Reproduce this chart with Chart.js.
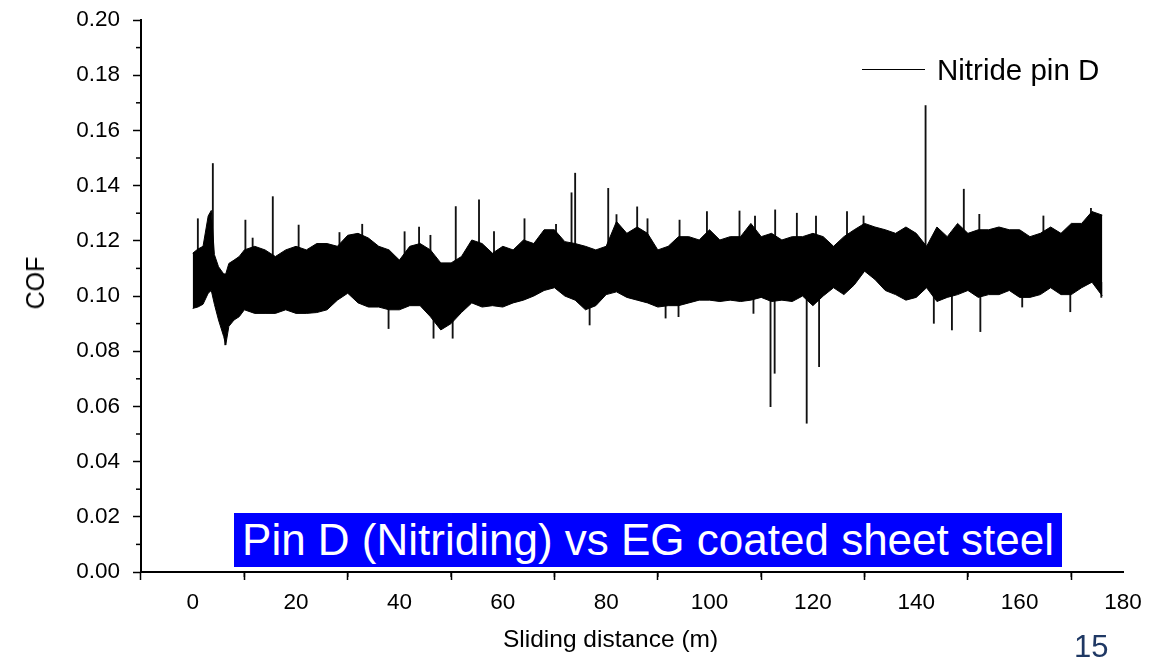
<!DOCTYPE html>
<html>
<head>
<meta charset="utf-8">
<script src="https://cdn.jsdelivr.net/npm/chart.js@4.4.1/dist/chart.umd.min.js"></script>
<style>
  html, body { margin: 0; padding: 0; background: #fff; }
  #wrap { position: relative; width: 1151px; height: 660px; overflow: hidden; }
  #cof { position: absolute; left: 0; top: 0; }
  .legend { position: absolute; left: 862px; top: 53px; height: 34px; font: 29.5px "Liberation Sans", Arial, sans-serif; color: #000; white-space: nowrap; }
  .legend .swatch { position: absolute; left: 0; top: 16px; width: 63px; height: 0; border-top: 1px solid #000; }
  .legend .txt { position: absolute; left: 75px; top: 0; line-height: 34px; }
  .xtitle { position: absolute; left: 503px; top: 624px; font: 24.5px "Liberation Sans", Arial, sans-serif; line-height: 30px; color: #000; white-space: nowrap; }
  .ytitle { position: absolute; left: 35px; top: 283px; font: 25px "Liberation Sans", Arial, sans-serif; line-height: 30px; color: #000; white-space: nowrap; transform: translate(-50%, -50%) rotate(-90deg); }
  .banner { position: absolute; left: 234px; top: 513px; width: 828px; height: 54px; background: #0000ff; color: #fff; font: 44px "Liberation Sans", Arial, sans-serif; line-height: 54px; text-align: center; white-space: nowrap; }
  .pageno { position: absolute; left: 1074px; top: 629px; font: 31px "Liberation Sans", Arial, sans-serif; color: #1f3864; line-height: 36px; }
</style>
</head>
<body>
<div id="wrap">
  <canvas id="cof" width="1151" height="660"></canvas>
  <div class="legend"><div class="swatch"></div><div class="txt">Nitride pin D</div></div>
  <div class="xtitle">Sliding distance (m)</div>
  <div class="ytitle">COF</div>
  <div class="banner">Pin D (Nitriding) vs EG coated sheet steel</div>
  <div class="pageno">15</div>
</div>
<script>
// envelope of the COF trace (upper / lower edge of the black band)
const distance = [0, 1, 2, 3, 3.6, 4.2, 5, 6, 6.4, 7, 8, 9, 10, 12, 14, 16, 18, 20, 22, 24, 26, 28, 30, 32, 34, 36, 38, 40,
  42, 44, 46, 48, 50, 52, 54, 56, 58, 60, 62, 64, 66, 68, 70, 72, 74, 76, 78, 80, 82, 84, 86, 88, 90, 92, 94, 96, 98, 100,
  102, 104, 106, 108, 110, 112, 114, 116, 118, 120, 122, 124, 126, 128, 130, 132, 134, 136, 138, 140, 142, 144, 146, 148,
  150, 152, 154, 156, 158, 160, 162, 164, 166, 168, 170, 172, 174, 176];
const cofHigh = [0.1155, 0.117, 0.118, 0.129, 0.131, 0.115, 0.1106, 0.108, 0.108, 0.1118, 0.113, 0.1143, 0.1167, 0.118,
  0.1167, 0.1143, 0.1167, 0.118, 0.1167, 0.119, 0.119, 0.118, 0.122, 0.1227, 0.121, 0.118, 0.1167, 0.113,
  0.118, 0.119, 0.1167, 0.112, 0.112, 0.1143, 0.1203, 0.119, 0.1155, 0.118, 0.1167, 0.1203, 0.119, 0.124, 0.124, 0.1197,
  0.119, 0.118, 0.1167, 0.118, 0.127, 0.1227, 0.125, 0.1227, 0.1167, 0.118, 0.1215, 0.1215, 0.1203, 0.124,
  0.1203, 0.1215, 0.1215, 0.1263, 0.1215, 0.1227, 0.1203, 0.1215, 0.1215, 0.1227, 0.1215, 0.118, 0.1215, 0.124, 0.1263,
  0.125, 0.124, 0.1227, 0.125, 0.1227, 0.118, 0.125, 0.1215, 0.1263, 0.1227, 0.124, 0.124, 0.125, 0.124, 0.124, 0.1215,
  0.1227, 0.125, 0.1227, 0.1263, 0.1263, 0.1306, 0.1293];
const cofLow = [0.0955, 0.096, 0.097, 0.101, 0.102, 0.097, 0.0913, 0.0853, 0.0823, 0.089, 0.0913, 0.0925, 0.095, 0.0937,
  0.0937, 0.0937, 0.095, 0.0937, 0.0937, 0.094, 0.095, 0.0985, 0.101, 0.0975, 0.096, 0.096, 0.095, 0.095,
  0.0965, 0.0965, 0.0925, 0.0877, 0.09, 0.094, 0.0975, 0.096, 0.0965, 0.096, 0.0975, 0.0985, 0.1, 0.102, 0.103, 0.1,
  0.0985, 0.095, 0.0965, 0.1005, 0.1015, 0.0995, 0.0985, 0.0975, 0.096, 0.0965, 0.0965, 0.0975, 0.0985, 0.0985,
  0.098, 0.0985, 0.098, 0.0985, 0.0995, 0.098, 0.0985, 0.098, 0.1, 0.0965, 0.1, 0.103, 0.1005, 0.104, 0.109,
  0.106, 0.102, 0.1005, 0.0985, 0.0995, 0.103, 0.098, 0.0995, 0.1005, 0.102, 0.0995, 0.1005, 0.1005, 0.102, 0.0995, 0.0995,
  0.1005, 0.103, 0.1005, 0.1005, 0.103, 0.105, 0.1];

// isolated spikes sticking out of the band
const spikeX = [1.0, 3.9, 10.2, 11.6, 15.5, 20.5, 28.4, 32.8, 41.0, 43.8, 46.0, 50.9, 55.4, 58.3, 64.2, 70.3, 73.3, 74.0,
  80.4, 82.0, 86.0, 88.0, 94.2, 99.5, 105.8, 108.8, 112.7, 116.9, 120.6, 126.6, 129.8, 141.8, 149.2, 152.2, 164.6, 173.8,
  6.3, 37.9, 46.6, 50.3, 76.8, 91.5, 94.0, 108.5, 111.8, 112.6, 118.8, 121.2, 143.4, 146.9, 152.4, 160.5, 169.8, 175.8];
const spikeLow = [0.112, 0.11, 0.11, 0.11, 0.11, 0.11, 0.11, 0.11, 0.11, 0.11, 0.11, 0.11, 0.11, 0.11, 0.11, 0.11, 0.11, 0.11,
  0.11, 0.11, 0.11, 0.11, 0.11, 0.11, 0.11, 0.11, 0.11, 0.11, 0.11, 0.11, 0.11, 0.11, 0.11, 0.11, 0.11, 0.11,
  0.0823, 0.0882, 0.0847, 0.0847, 0.0895, 0.092, 0.0925, 0.0937, 0.0599, 0.072, 0.0539, 0.0744, 0.0901, 0.0877, 0.0871, 0.096, 0.0943, 0.0995];
const spikeHigh = [0.128, 0.148, 0.1275, 0.121, 0.136, 0.1257, 0.123, 0.126, 0.1233, 0.125, 0.122, 0.1324, 0.1348, 0.1233, 0.128, 0.126, 0.1374, 0.1445,
  0.139, 0.1295, 0.1323, 0.128, 0.1275, 0.1306, 0.1308, 0.129, 0.1312, 0.13, 0.129, 0.1306, 0.129, 0.169, 0.1387, 0.1296, 0.129, 0.1318,
  0.1, 0.105, 0.105, 0.105, 0.105, 0.105, 0.105, 0.105, 0.105, 0.105, 0.105, 0.105, 0.105, 0.105, 0.105, 0.105, 0.105, 0.105];

const xTicks = [0, 20, 40, 60, 80, 100, 120, 140, 160, 180];
const xMinor = [10, 30, 50, 70, 90, 110, 130, 150, 170];
const yMinor = [0.01, 0.03, 0.05, 0.07, 0.09, 0.11, 0.13, 0.15, 0.17, 0.19];

const tickFont = { family: '"Liberation Sans", Arial, sans-serif', size: 22.5 };

// minor tick marks (chart.js has none for linear axes)
const minorTicks = {
  id: 'minorTicks',
  afterDraw(chart) {
    const { ctx, scales: { x, y } } = chart;
    ctx.save();
    ctx.strokeStyle = '#000';
    ctx.lineWidth = 1.5;
    xMinor.forEach(v => {
      const px = x.getPixelForValue(v);
      ctx.beginPath();
      ctx.moveTo(px, x.top);
      ctx.lineTo(px, x.top + 5);
      ctx.stroke();
    });
    yMinor.forEach(v => {
      const py = y.getPixelForValue(v);
      ctx.beginPath();
      ctx.moveTo(y.right - 5, py);
      ctx.lineTo(y.right, py);
      ctx.stroke();
    });
    ctx.restore();
  }
};

const ctx = document.getElementById('cof').getContext('2d');
new Chart(ctx, {
  type: 'line',
  data: {
    datasets: [
      {
        label: 'Nitride pin D',
        data: distance.map((d, i) => ({ x: d, y: cofHigh[i] })),
        borderColor: '#000',
        borderWidth: 1,
        pointRadius: 0,
        tension: 0,
        fill: false
      },
      {
        label: 'low',
        data: distance.map((d, i) => ({ x: d, y: cofLow[i] })),
        borderColor: '#000',
        backgroundColor: '#000',
        borderWidth: 1,
        pointRadius: 0,
        tension: 0,
        fill: '-1'
      },
      {
        type: 'bar',
        label: 'spikes',
        data: spikeX.map((d, i) => ({ x: d, y: [spikeLow[i], spikeHigh[i]] })),
        backgroundColor: '#111',
        borderWidth: 0,
        barThickness: 1.2,
        grouped: false
      }
    ]
  },
  options: {
    responsive: false,
    animation: false,
    devicePixelRatio: 1,
    layout: { padding: { top: 20, right: 28, left: 0, bottom: 0 } },
    plugins: { legend: { display: false }, tooltip: { enabled: false } },
    scales: {
      x: {
        type: 'linear',
        min: -10,
        max: 180,
        offset: false,
        afterBuildTicks: s => { s.ticks = xTicks.map(v => ({ value: v })); },
        afterFit: s => { s.height = 88; },
        ticks: { font: tickFont, color: '#000', padding: 9, maxRotation: 0, autoSkip: false },
        grid: { drawOnChartArea: false, drawTicks: true, tickLength: 8, tickColor: '#000', tickWidth: 1.5 },
        border: { display: true, color: '#000', width: 2 }
      },
      y: {
        min: 0,
        max: 0.2,
        afterFit: s => { s.width = 141; s.paddingTop = 0; s.paddingBottom = 0; },
        ticks: { stepSize: 0.02, font: tickFont, color: '#000', padding: 13, callback: v => v.toFixed(2) },
        grid: { drawOnChartArea: false, drawTicks: true, tickLength: 8, tickColor: '#000', tickWidth: 1.5 },
        border: { display: true, color: '#000', width: 2 }
      }
    }
  },
  plugins: [minorTicks]
});
</script>
</body>
</html>
